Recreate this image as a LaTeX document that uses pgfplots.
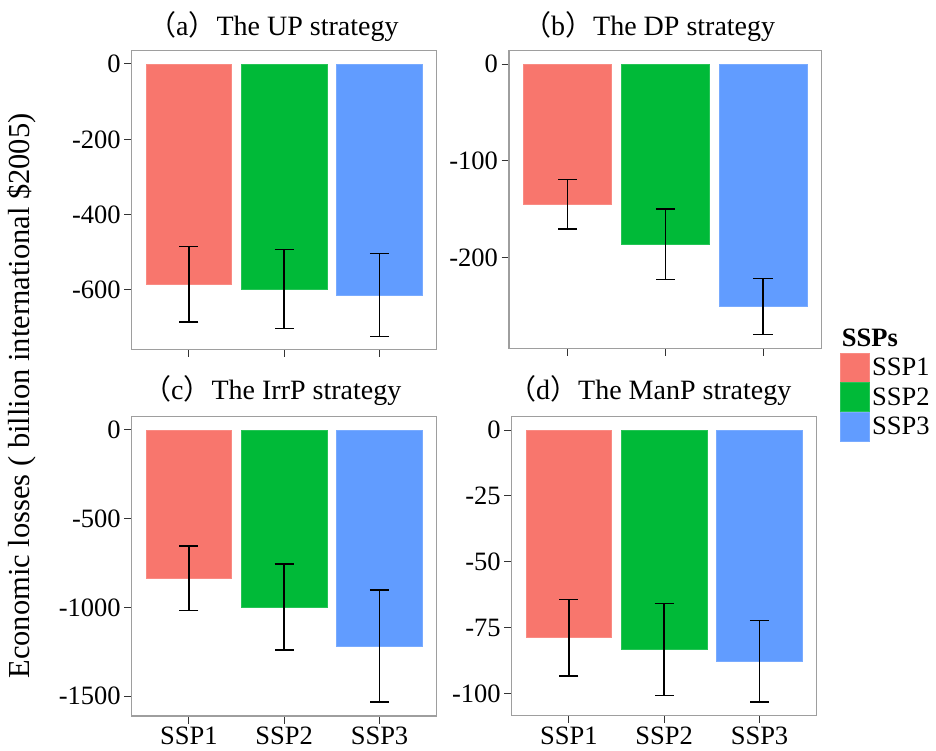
\documentclass[border=0pt]{standalone}
\usepackage{pgfplots}
\pgfplotsset{compat=1.18}
\usepackage{fontspec}
\setmainfont{Liberation Serif}
\newfontfamily\cjk{Noto Sans CJK SC}
\definecolor{c1}{HTML}{F8766D}
\definecolor{c2}{HTML}{00BA38}
\definecolor{c3}{HTML}{619CFF}
\definecolor{framegray}{gray}{0.62}
\definecolor{tickgray}{gray}{0.2}
\pgfplotsset{
  facet/.style={
    scale only axis,
    anchor=south west,
    xmin=0.4, xmax=3.6,
    xtick={1,2,3},
    tick pos=left,
    tick align=outside,
    major tick length=7.5pt,
    every tick/.style={tickgray, line width=1pt},
    axis line style={framegray, line width=1.2pt},
    ybar, bar width=0.9, bar shift=0pt,
    ticklabel style={font=\fontsize{26.5}{26.5}\selectfont},
    error bars/y dir=both, error bars/y explicit,
    error bars/error mark=|,
    error bars/error bar style={black, line width=1.5pt},
    error bars/error mark options={black, line width=1.5pt, mark size=9.6pt},
  },
  b1/.style={fill=c1, draw=c1!85!white, line width=0.6pt},
  b2/.style={fill=c2, draw=c2!85!white, line width=0.6pt},
  b3/.style={fill=c3, draw=c3!85!white, line width=0.6pt},
}
\begin{document}
\begin{tikzpicture}
\path[use as bounding box] (0pt,0pt) rectangle (936pt,750pt);
% (a)
\begin{axis}[facet, at={(131.7pt,400.7pt)}, width=305pt, height=298.6pt,
  ymin=-757.5, ymax=35.3,
  ytick={-600,-400,-200,0}, yticklabels={-600,-400,-200,0},
  xticklabels={}]
\addplot[b1] coordinates {(1,-585) +- (0,100.5)};
\addplot[b2] coordinates {(2,-597.5) +- (0,105)};
\addplot[b3] coordinates {(3,-613) +- (0,110)};
\end{axis}
% (b)
\begin{axis}[facet, at={(509pt,401.7pt)}, width=312.7pt, height=297.6pt,
  ymin=-294.1, ymax=13.8,
  ytick={-200,-100,0}, yticklabels={-200,-100,0},
  xticklabels={},
  legend image code/.code={\fill[#1] (0pt,-14.5pt) rectangle (29pt,14.5pt);},
  legend style={at={(1.0585,-0.0148)}, anchor=north west, draw=none, fill=none,
    inner sep=0pt, outer sep=0pt, row sep=0pt, column sep=2.5pt,
    font=\fontsize{26.5}{26.5}\selectfont,
    nodes={inner sep=0pt, outer sep=0pt}, cells={anchor=west}}]
\addplot[b1] coordinates {(1,-145.2) +- (0,25.5)};
\addlegendentry{SSP1}
\addplot[b2] coordinates {(2,-186.5) +- (0,36.5)};
\addlegendentry{SSP2}
\addplot[b3] coordinates {(3,-251) +- (0,29)};
\addlegendentry{SSP3}
\end{axis}
% (c)
\begin{axis}[facet, at={(131.7pt,34pt)}, width=305pt, height=299.3pt,
  ymin=-1612.8, ymax=75,
  ytick={-1500,-1000,-500,0}, yticklabels={-1500,-1000,-500,0},
  xticklabels={SSP1,SSP2,SSP3}]
\addplot[b1] coordinates {(1,-836) +- (0,182.5)};
\addplot[b2] coordinates {(2,-998) +- (0,242.5)};
\addplot[b3] coordinates {(3,-1218) +- (0,316)};
\end{axis}
% (d)
\begin{axis}[facet, at={(511.7pt,34.3pt)}, width=305pt, height=299pt,
  ymin=-108.5, ymax=5.07,
  ytick={-100,-75,-50,-25,0}, yticklabels={-100,-75,-50,-25,0},
  xticklabels={SSP1,SSP2,SSP3}]
\addplot[b1] coordinates {(1,-78.9) +- (0,14.5)};
\addplot[b2] coordinates {(2,-83.3) +- (0,17.5)};
\addplot[b3] coordinates {(3,-87.8) +- (0,15.5)};
\end{axis}
\begin{scope}[every node/.style={anchor=base west, inner sep=0pt, font=\fontsize{28}{28}\selectfont}]
\node at (148pt,714pt) {{\cjk （}a{\cjk ）}The UP strategy};
\node at (523pt,714pt) {{\cjk （}b{\cjk ）}The DP strategy};
\node at (143pt,350pt) {{\cjk （}c{\cjk ）}The IrrP strategy};
\node at (508pt,350pt) {{\cjk （}d{\cjk ）}The ManP strategy};
\end{scope}
\node[anchor=base west, inner sep=0pt, font=\fontsize{26.5}{26.5}\selectfont\bfseries] at (841.7pt,403.3pt) {SSPs};
\node[anchor=base, rotate=90, inner sep=0pt, font=\fontsize{30.5}{30.5}\selectfont] at (29.3pt,354pt) {Economic losses ( billion international \$2005)};
\end{tikzpicture}
\end{document}
